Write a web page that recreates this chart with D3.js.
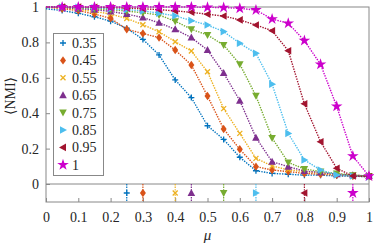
<!DOCTYPE html>
<html>
<head>
<meta charset="utf-8">
<script src="https://cdn.jsdelivr.net/npm/d3@7"></script>
<style>
  body { margin: 0; background: #fff; }
  text { font-family: "Liberation Serif", "DejaVu Serif", serif; fill: #262626; }
</style>
</head>
<body>
<svg id="chart" width="374" height="246"></svg>
<script>
// mixing parameter on the x axis
var mu = [0, 0.05, 0.1, 0.15, 0.2, 0.25, 0.3, 0.35, 0.4, 0.45, 0.5,
          0.55, 0.6, 0.65, 0.7, 0.75, 0.8, 0.85, 0.9, 0.95, 1];

// <NMI> per series
var nmi035 = [0.99, 0.98, 0.964, 0.945, 0.92, 0.88, 0.817, 0.729, 0.588, 0.488, 0.329,
              0.252, 0.151, 0.075, 0.06, 0.055, 0.05, 0.05, 0.045, 0.045, 0.045];
var nmi045 = [1, 0.99, 0.98, 0.96, 0.936, 0.874, 0.85, 0.827, 0.757, 0.672, 0.497,
              0.311, 0.196, 0.098, 0.079, 0.07, 0.06, 0.055, 0.05, 0.045, 0.045];
var nmi055 = [1, 0.995, 0.985, 0.975, 0.96, 0.935, 0.9, 0.86, 0.804, 0.751, 0.634,
              0.426, 0.286, 0.145, 0.102, 0.08, 0.07, 0.06, 0.055, 0.05, 0.045];
var nmi065 = [1, 0.998, 0.99, 0.985, 0.975, 0.96, 0.94, 0.911, 0.874, 0.827, 0.757,
              0.627, 0.471, 0.262, 0.126, 0.098, 0.073, 0.065, 0.055, 0.05, 0.045];
var nmi075 = [1, 1, 0.995, 0.99, 0.985, 0.977, 0.967, 0.955, 0.92, 0.874, 0.842,
              0.785, 0.677, 0.498, 0.26, 0.122, 0.085, 0.07, 0.06, 0.05, 0.045];
var nmi085 = [1, 1, 0.998, 0.995, 0.99, 0.985, 0.978, 0.965, 0.95, 0.923, 0.898,
              0.861, 0.795, 0.738, 0.564, 0.286, 0.136, 0.079, 0.051, 0.045, 0.04];
var nmi095 = [1, 1, 1, 0.998, 0.996, 0.994, 0.99, 0.985, 0.978, 0.97, 0.959,
              0.949, 0.927, 0.898, 0.866, 0.753, 0.453, 0.239, 0.089, 0.045, 0.041];
var nmi100 = [1, 1, 1, 1, 1, 1, 1, 1, 1, 1, 0.998,
              0.997, 0.992, 0.983, 0.932, 0.908, 0.81, 0.676, 0.439, 0.158, 0.045];

var labels = ["0.35", "0.45", "0.55", "0.65", "0.75", "0.85", "0.95", "1"];
// detection threshold shown in the strip below zero
var thresholds = [0.25, 0.3, 0.4, 0.45, 0.55, 0.65, 0.8, 0.95];
var xTicks = [0, 0.1, 0.2, 0.3, 0.4, 0.5, 0.6, 0.7, 0.8, 0.9, 1];
var yTicks = [0, 0.2, 0.4, 0.6, 0.8, 1];

var series = [nmi035, nmi045, nmi055, nmi065, nmi075, nmi085, nmi095, nmi100];
var colors = ["#0072BD", "#D95319", "#EDB120", "#7E2F8E", "#77AC30", "#4DBEEE", "#A2142F", "#CC00CC"];
var shapes = ["plus", "diamond", "cross", "up", "down", "right", "left", "star"];

var FONT = '"Liberation Serif", "DejaVu Serif", serif';
var svg = d3.select("#chart"),
    LEFT = 46, RIGHT = 369, TOP = 7, ZERO = 184, BOTTOM = 202;

var x = d3.scaleLinear().domain([0, 1]).range([LEFT, RIGHT]);
var y = d3.scaleLinear().domain([0, 1]).range([ZERO, TOP]);
var strip = (ZERO + BOTTOM) / 2;

// draw one marker of a given shape at (cx, cy)
function marker(g, shape, color, cx, cy) {
    var m = g.append("g").attr("transform", "translate(" + cx + "," + cy + ")");
    if (shape === "plus") {
        m.append("path").attr("d", "M-3,0H3M0,-3V3")
            .attr("stroke", color).attr("stroke-width", 1.3).attr("fill", "none");
    } else if (shape === "cross") {
        m.append("path").attr("d", "M-2.5,-2.5L2.5,2.5M-2.5,2.5L2.5,-2.5")
            .attr("stroke", color).attr("stroke-width", 1.3).attr("fill", "none");
    } else if (shape === "diamond") {
        m.append("path").attr("d", "M0,-4.2L3,0L0,4.2L-3,0Z").attr("fill", color);
    } else if (shape === "star") {
        m.append("path").attr("d", d3.symbol().type(d3.symbolStar).size(42)()).attr("fill", color);
    } else {
        var rot = {up: 0, right: 90, down: 180, left: 270}[shape];
        m.append("path").attr("d", "M0,-4L3.8,3L-3.8,3Z")
            .attr("transform", "rotate(" + rot + ")").attr("fill", color);
    }
}

function fmt(d) { return d === 0 || d === 1 ? String(d) : d3.format(".1f")(d); }

// axes, ticks pointing inward
var xAxis = svg.append("g")
    .attr("transform", "translate(0," + BOTTOM + ")")
    .call(d3.axisBottom(x).tickValues(xTicks).tickSize(-4).tickPadding(10).tickFormat(fmt));
var yAxis = svg.append("g")
    .attr("transform", "translate(" + LEFT + ",0)")
    .call(d3.axisLeft(y).tickValues(yTicks).tickSize(-4).tickPadding(7).tickFormat(fmt));
[xAxis, yAxis].forEach(function (a) {
    a.attr("font-family", FONT);
    a.select(".domain").remove();
    a.selectAll(".tick line").attr("stroke", "#888");
    a.selectAll("text").attr("font-size", 14).attr("fill", "#262626");
});

// frame and zero separator
svg.append("rect")
    .attr("x", LEFT).attr("y", TOP)
    .attr("width", RIGHT - LEFT).attr("height", BOTTOM - TOP)
    .attr("fill", "none").attr("stroke", "#888");
svg.append("line")
    .attr("x1", LEFT).attr("x2", RIGHT).attr("y1", ZERO).attr("y2", ZERO)
    .attr("stroke", "#888");

var line = d3.line()
    .x(function (d, i) { return x(mu[i]); })
    .y(function (d) { return y(d); });

var plot = svg.append("g");
series.forEach(function (vals, k) {
    plot.append("path")
        .attr("d", line(vals))
        .attr("fill", "none")
        .attr("stroke", colors[k])
        .attr("stroke-width", 1.4)
        .attr("stroke-dasharray", "1.4,1.2");
    vals.forEach(function (v, i) {
        if (i > 0) marker(plot, shapes[k], colors[k], x(mu[i]), y(v));
    });
});

// threshold strip
thresholds.forEach(function (t, k) {
    plot.append("line")
        .attr("x1", x(t)).attr("x2", x(t))
        .attr("y1", ZERO).attr("y2", BOTTOM)
        .attr("stroke", colors[k]).attr("stroke-width", 1.2)
        .attr("stroke-dasharray", "1.4,1.2");
    marker(plot, shapes[k], colors[k], x(t), strip);
});

// legend
var legend = svg.append("g");
legend.append("rect")
    .attr("x", 53.5).attr("y", 33.5).attr("width", 50).attr("height", 142)
    .attr("fill", "#fff").attr("stroke", "#888");
labels.forEach(function (lab, k) {
    var ly = 43 + k * 17.4;
    marker(legend, shapes[k], colors[k], 63, ly);
    legend.append("text")
        .attr("x", 72).attr("y", ly + 5)
        .attr("font-size", 14)
        .attr("font-family", FONT)
        .text(lab);
});

// axis titles
svg.append("text")
    .attr("transform", "translate(15,96) rotate(-90)")
    .attr("text-anchor", "middle")
    .attr("font-size", 14)
    .attr("font-family", FONT)
    .text("\u27E8NMI\u27E9");
svg.append("text")
    .attr("x", (LEFT + RIGHT) / 2).attr("y", 240)
    .attr("text-anchor", "middle")
    .attr("font-size", 15)
    .attr("font-style", "italic")
    .attr("font-family", FONT)
    .text("\u03BC");
</script>
</body>
</html>
